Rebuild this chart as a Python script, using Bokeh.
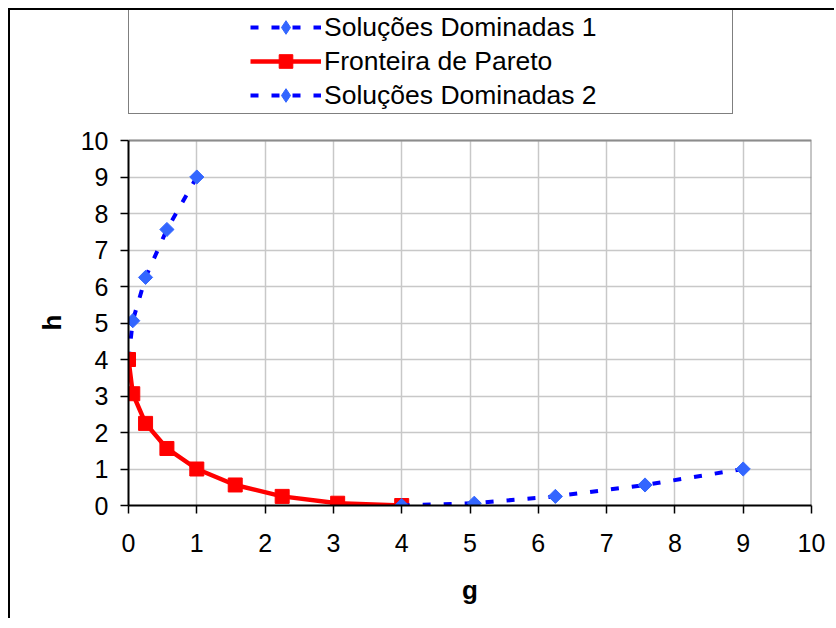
import numpy as np
from bokeh.plotting import figure
from bokeh.models import Legend, LegendItem, FixedTicker, Range1d, Grid, Title
from bokeh.embed import file_html
from bokeh.resources import INLINE

# ---- data ----
dom1_g = [0.0, 0.0625, 0.25, 0.5625, 1.0]
dom1_h = [4.0, 5.0625, 6.25, 7.5625, 9.0]

pareto_g = [0.0, 0.0625, 0.25, 0.5625, 1.0, 1.5625, 2.25, 3.0625, 4.0]
pareto_h = [4.0, 3.0625, 2.25, 1.5625, 1.0, 0.5625, 0.25, 0.0625, 0.0]

dom2_g = [4.0, 5.0625, 6.25, 7.5625, 9.0]
dom2_h = [0.0, 0.0625, 0.25, 0.5625, 1.0]

ticks = list(range(0, 11))
label_dom1 = "Soluções Dominadas 1"
label_pareto = "Fronteira de Pareto"
label_dom2 = "Soluções Dominadas 2"
x_title = "g"
y_title = "h"

FONT = "Liberation Sans"
lo, hi = ticks[0], ticks[-1]
# frame extends above the plot area so the legend (drawn inside the frame) is not clipped
y_top = hi * 495 / 365

p = figure(width=826, height=610, output_backend="svg", toolbar_location=None,
           x_range=Range1d(lo, hi), y_range=Range1d(lo, y_top),
           min_border_left=118, min_border_right=25, min_border_top=0,
           min_border_bottom=115)
p.styles = {"margin-left": "8px", "margin-top": "8px",
            "border-left": "2px solid black", "border-top": "2px solid black"}
p.background_fill_color = "white"
p.border_fill_color = "white"
p.outline_line_color = None

for ax in (p.xaxis[0], p.yaxis[0]):
    ax.ticker = FixedTicker(ticks=ticks)
    ax.bounds = (lo, hi)
    ax.axis_line_color = "black"
    ax.axis_line_width = 2
    ax.major_tick_line_color = "black"
    ax.major_tick_line_width = 1.5
    ax.major_tick_out = 8
    ax.major_tick_in = 0
    ax.minor_tick_line_color = None
    ax.major_label_text_font = FONT
    ax.major_label_text_font_size = "25px"
    ax.major_label_text_color = "black"
    ax.axis_label_text_font = FONT
    ax.axis_label_text_font_style = "bold"
    ax.axis_label_text_font_size = "26px"
    ax.axis_label_text_color = "black"

p.xaxis.axis_label = x_title
p.xaxis.major_label_standoff = 20
p.yaxis.major_label_standoff = 12
p.xaxis.axis_label_standoff = 20

# y-axis title centred on the 0..10 plot area (not the whole frame)
p.add_layout(Title(text=y_title, align="left", offset=175, vertical_align="middle",
                   standoff=19, text_font=FONT, text_font_size="26px",
                   text_font_style="bold", text_color="black"), "left")

GRID_COLOR = "#c8c8c8"
p.xgrid.ticker = FixedTicker(ticks=ticks)
p.ygrid.ticker = FixedTicker(ticks=ticks)
p.grid.grid_line_color = GRID_COLOR
p.grid.grid_line_width = 1.5
if "cross_bounds" in Grid.properties():
    p.xgrid.cross_bounds = (lo, hi)
    p.ygrid.cross_bounds = (lo, hi)
else:
    p.xgrid.visible = False
    n = len(ticks)
    p.segment(x0=ticks, y0=[lo] * n, x1=ticks, y1=[hi] * n,
              line_color=GRID_COLOR, line_width=1.5)

# plot-area border (top and right)
p.line([lo, hi, hi], [hi, hi, lo], line_color="#8c8c8c", line_width=2)

BLUE_LINE = "#0000ff"
BLUE_MARK = "#3366ff"
RED = "#ff0000"
DASH = "8 13"

l1 = p.line(dom1_g, dom1_h, line_color=BLUE_LINE, line_width=4, line_dash=DASH)
m1 = p.scatter(dom1_g, dom1_h, marker="square", angle=np.pi / 4, size=10,
               fill_color=BLUE_MARK, line_color=BLUE_MARK)
# diamond glyph used for the legend (legend glyphs are drawn unrotated);
# its single point sits under the first Pareto square
d_leg = p.scatter(dom1_g[:1], dom1_h[:1], marker="diamond", size=13,
                  fill_color=BLUE_MARK, line_color=BLUE_MARK)
l2 = p.line(pareto_g, pareto_h, line_color=RED, line_width=4.5)
m2 = p.scatter(pareto_g, pareto_h, marker="square", size=14, fill_color=RED,
               line_color=RED)
l3 = p.line(dom2_g, dom2_h, line_color=BLUE_LINE, line_width=4, line_dash=DASH)
m3 = p.scatter(dom2_g, dom2_h, marker="square", angle=np.pi / 4, size=10,
               fill_color=BLUE_MARK, line_color=BLUE_MARK)

legend = Legend(items=[
    LegendItem(label=label_dom1, renderers=[l1, d_leg]),
    LegendItem(label=label_pareto, renderers=[l2, m2]),
    LegendItem(label=label_dom2, renderers=[l3, d_leg]),
], location=(0, 391))
legend.title = " "
legend.title_location = "left"
legend.title_text_font_size = "1px"
legend.title_standoff = 119
legend.padding = 1
legend.margin = 0
legend.spacing = 0
legend.glyph_width = 71
legend.glyph_height = 34
legend.label_height = 34
legend.label_width = 407
legend.label_standoff = 3
legend.label_text_font = FONT
legend.label_text_font_size = "26.5px"
legend.label_text_color = "black"
legend.border_line_color = "black"
legend.border_line_width = 1.5
legend.background_fill_color = "white"
legend.background_fill_alpha = 1
p.add_layout(legend, "center")

open("out.html", "w").write(file_html(p, INLINE))
